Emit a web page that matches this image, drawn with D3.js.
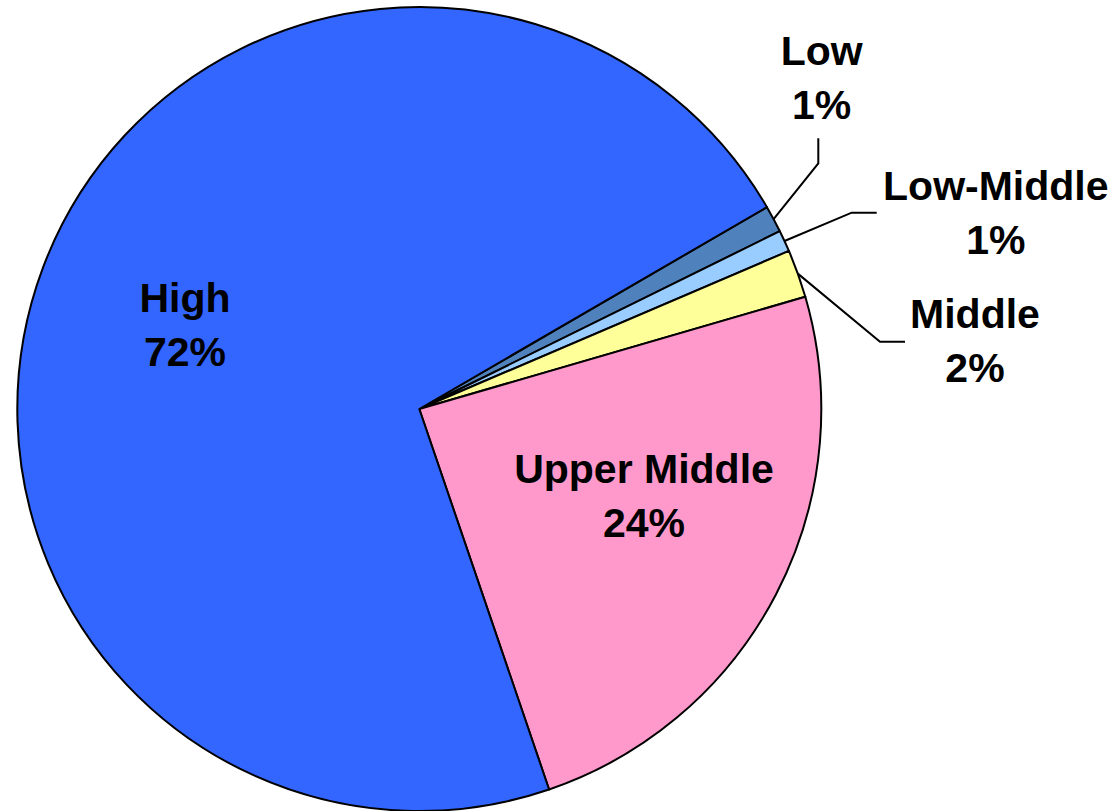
<!DOCTYPE html>
<html>
<head>
<meta charset="utf-8">
<script src="https://cdn.jsdelivr.net/npm/d3@7"></script>
<style>
  html, body { margin: 0; padding: 0; background: #ffffff; }
  svg { display: block; }
  text { font-family: "Liberation Sans", Arial, sans-serif; font-weight: bold; fill: #000; }
</style>
</head>
<body>
<svg id="chart" width="1117" height="811"></svg>
<script>
// ---- data ----
const categories = ["Low", "Low-Middle", "Middle", "Upper Middle", "High"];
const values = [1.08, 0.86, 1.93, 24.27, 71.86];
const colors = ["#4F81BD", "#99CCFF", "#FFFF99", "#FF99CC", "#3366FF"];

// ---- layout ----
const W = 1117, H = 811;
const cx = 419.3, cy = 409, R = 402;
const startDeg = 59.86;
const fontSize = 41, lineGap = 54;

// label layout: inside labels (block anchor = first baseline) and outside labels with leader elbows
const labelLayout = {
  "Low":          { x: 821.7, y: 65,  elbow: [[818.3, 163.3], [818.3, 138.3]] },
  "Low-Middle":   { x: 995.8, y: 200, elbow: [[851.7, 212.7], [876.7, 212.7]] },
  "Middle":       { x: 975,   y: 328, elbow: [[880, 341.7], [905, 341.7]] },
  "Upper Middle": { x: 644,   y: 483 },
  "High":         { x: 185,   y: 312 }
};

const svg = d3.select("#chart");
const g = svg.append("g").attr("transform", `translate(${cx},${cy})`);

const data = categories.map((c, i) => ({ name: c, value: values[i], color: colors[i] }));
const total = d3.sum(values);

const pie = d3.pie()
  .sort(null)
  .value(d => d.value)
  .startAngle(startDeg * Math.PI / 180)
  .endAngle(startDeg * Math.PI / 180 + 2 * Math.PI);

const arcs = pie(data);
const arc = d3.arc().innerRadius(0).outerRadius(R);
const edgeArc = d3.arc().innerRadius(R).outerRadius(R);

g.selectAll("path.slice")
  .data(arcs)
  .join("path")
  .attr("class", "slice")
  .attr("d", arc)
  .attr("fill", d => d.data.color)
  .attr("stroke", "#000")
  .attr("stroke-width", 2)
  .attr("stroke-linejoin", "round");

const fmt = d3.format(".0%");

// leader lines
arcs.forEach(a => {
  const L = labelLayout[a.data.name];
  if (!L.elbow) return;
  const p0 = edgeArc.centroid(a);
  const pts = [[p0[0] + cx, p0[1] + cy]].concat(L.elbow);
  svg.append("path")
    .attr("d", d3.line()(pts))
    .attr("fill", "none")
    .attr("stroke", "#000")
    .attr("stroke-width", 2);
});

// labels
arcs.forEach(a => {
  const L = labelLayout[a.data.name];
  const t = svg.append("text")
    .attr("text-anchor", "middle")
    .attr("font-size", fontSize);
  t.append("tspan").attr("x", L.x).attr("y", L.y).text(a.data.name);
  t.append("tspan").attr("x", L.x).attr("y", L.y + lineGap).text(fmt(a.data.value / total));
});
</script>
</body>
</html>
